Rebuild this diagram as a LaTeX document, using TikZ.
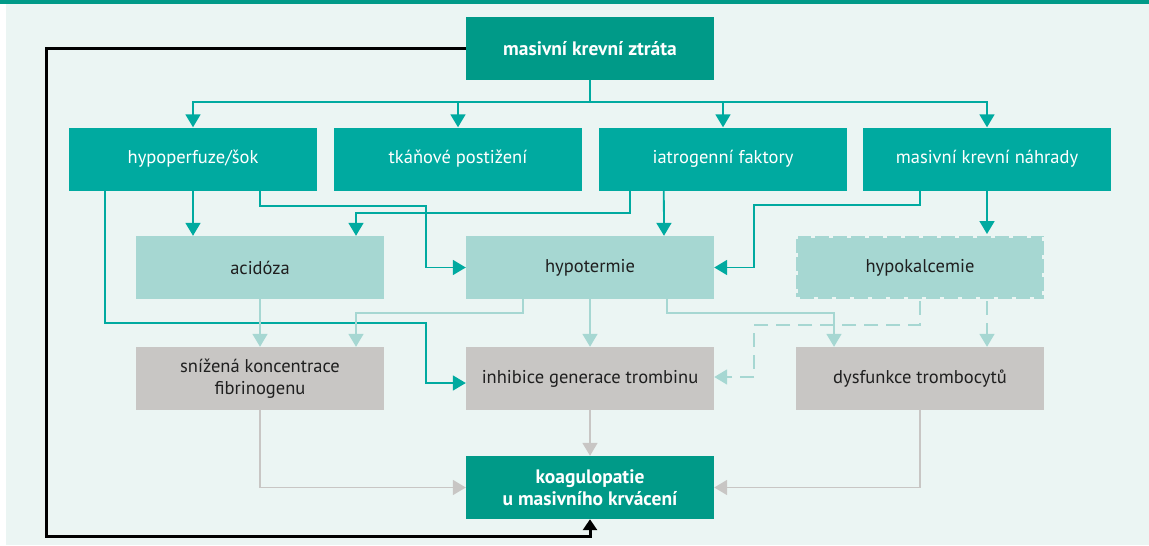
\documentclass[tikz,border=0pt]{standalone}
\usepackage{fontspec}
\setmainfont{PT Sans}
\usetikzlibrary{arrows.meta}
\definecolor{darkteal}{HTML}{009A88}
\definecolor{mainteal}{HTML}{00AAA0}
\definecolor{lightteal}{HTML}{A6D7D2}
\definecolor{boxgrey}{HTML}{C8C6C4}
\definecolor{bgteal}{HTML}{EBF5F3}
\begin{document}
\begin{tikzpicture}[x=1pt,y=-1pt,
    box/.style={rectangle,minimum width=248pt,minimum height=63pt,inner sep=0pt,
      align=center,font=\fontsize{18.5}{22}\selectfont},
    keybox/.style={box,fill=darkteal,text=white,font=\fontsize{19.5}{22}\selectfont\bfseries},
    causebox/.style={box,fill=mainteal,text=white},
    factorbox/.style={box,fill=lightteal,text=black!88},
    effectbox/.style={box,fill=boxgrey,text=black!88},
    mainline/.style={draw=mainteal,line width=1.8pt,-{Triangle[width=15pt,length=13pt]}},
    lightline/.style={draw=lightteal,line width=1.8pt,-{Triangle[width=15pt,length=13pt]}},
    greyline/.style={draw=boxgrey,line width=1.8pt,-{Triangle[width=15pt,length=13pt]}}]
    % background
    \fill[white] (0,0) rectangle (1149,546);
    \fill[bgteal] (6,4) rectangle (1149,545);
    \fill[darkteal] (0,0) rectangle (1149,4);
    % boxes
    \node[keybox] (loss) at (590,48.5) {masivní krevní ztráta};
    \node[causebox] (hypo) at (193,159) {hypoperfuze/šok};
    \node[causebox] (tissue) at (458,159) {tkáňové postižení};
    \node[causebox] (iatro) at (723,159) {iatrogenní faktory};
    \node[causebox] (repl) at (987,159) {masivní krevní náhrady};
    \node[factorbox] (acid) at (260,267.5) {acidóza};
    \node[factorbox] (hypot) at (590,267.5) {hypotermie};
    \node[factorbox,draw=bgteal,line width=4pt,dash pattern=on 4pt off 14pt] (hypok) at (920,267.5) {hypokalcemie};
    \node[effectbox] (fibr) at (260,378.5) {snížená koncentrace\\fibrinogenu};
    \node[effectbox] (inhib) at (590,378.5) {inhibice generace trombinu};
    \node[effectbox] (plt) at (920,378.5) {dysfunkce trombocytů};
    \node[keybox] (coag) at (590,487.5) {koagulopatie\\u masivního krvácení};
    \coordinate (lx) at (426,0);
    \coordinate (rx) at (754,0);
    \coordinate (fb) at (46,536);
    % first row
    \draw[draw=mainteal,line width=1.8pt] (loss.south) -- ++(0,22) coordinate (split);
    \foreach \n in {hypo,tissue,iatro,repl}
      \draw[mainline] (split) -| (\n.north);
    % second row
    \draw[mainline] (hypo.south) -- (hypo.south |- acid.north);
    \draw[mainline] ([xshift=191pt]hypo.south west) -- ++(0,15) -| (lx |- hypot.west) -- (hypot.west);
    \draw[mainline] ([xshift=36pt]hypo.south west) -- ++(0,132) -| ([yshift=-4.5pt]lx |- inhib.west) -- ([yshift=-4.5pt]inhib.west);
    \draw[mainline] ([xshift=31pt]iatro.south west) -- ++(0,22) -| ([xshift=96pt]acid.north);
    \draw[mainline] ([xshift=65pt]iatro.south west) -- ([xshift=74pt]hypot.north);
    \draw[mainline] ([xshift=57pt]repl.south west) -- ++(0,14) -| (rx |- hypot.east) -- (hypot.east);
    \draw[mainline] (repl.south) -- (repl.south |- hypok.north);
    % third row
    \draw[lightline] (acid.south) -- (fibr.north);
    \draw[lightline] ([xshift=-67pt]hypot.south) -- ++(0,14) -| ([xshift=96pt]fibr.north);
    \draw[lightline] (hypot.south) -- (inhib.north);
    \draw[lightline] ([xshift=77pt]hypot.south) -- ++(0,14) -| ([xshift=-86pt]plt.north);
    \draw[lightline,dash pattern=on 14pt off 8pt] (hypok.south) -- ++(0,24) -| ([yshift=1.5pt]rx |- inhib.east) -- ([yshift=1.5pt]inhib.east);
    \draw[lightline,dash pattern=on 14pt off 8pt] ([xshift=67pt]hypok.south) -- ([xshift=67pt]plt.north);
    % result
    \draw[greyline] (fibr.south) |- (coag.west);
    \draw[greyline] (inhib.south) -- (coag.north);
    \draw[greyline] (plt.south) |- (coag.east);
    \draw[line width=3pt,-{Triangle[width=14pt,length=11pt]}] (loss.west) -| (fb) -| (coag.south);
\end{tikzpicture}
\end{document}
